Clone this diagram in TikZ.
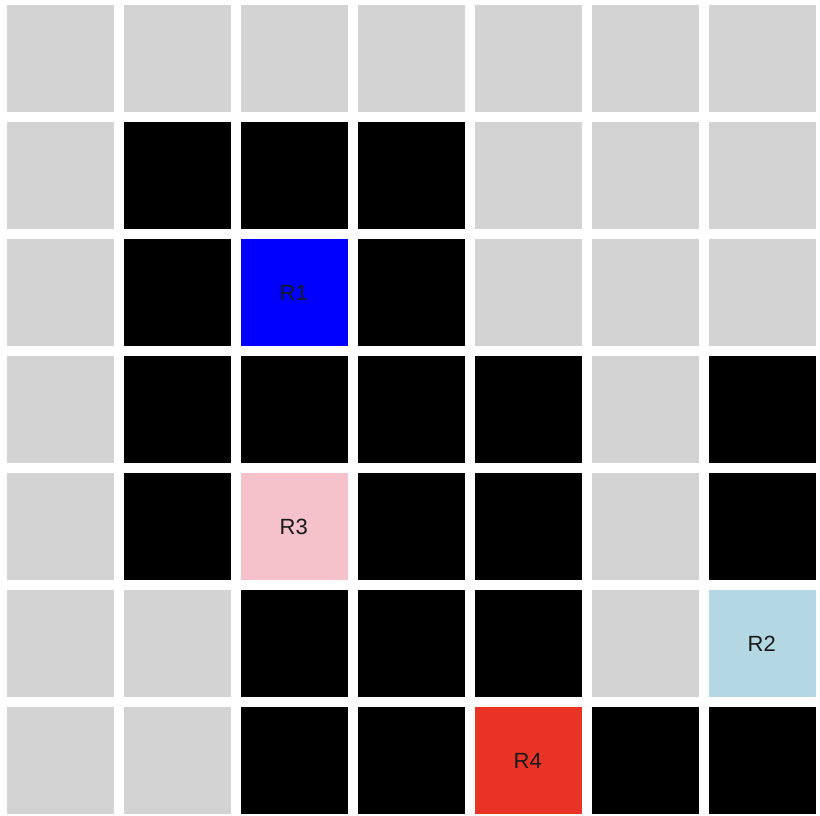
\documentclass[tikz,border=0pt]{standalone}
\usepackage{fontspec}
\setmainfont{Liberation Sans}
\definecolor{G}{HTML}{D3D3D3}
\definecolor{K}{HTML}{000000}
\definecolor{B}{HTML}{0000FF}
\definecolor{P}{HTML}{F5C1CB}
\definecolor{L}{HTML}{B3D8E4}
\definecolor{R}{HTML}{E93324}
\definecolor{txt}{HTML}{1A1A1A}
\tikzset{
  cell/.style={draw=none, minimum width=107pt, minimum height=107pt, inner sep=0pt, anchor=north west},
  lbl/.style={text=txt, font=\fontsize{22pt}{26pt}\selectfont, inner sep=0pt},
}
\begin{document}
\begin{tikzpicture}[x=1pt,y=-1pt]
\useasboundingbox (0,0) rectangle (820,816);
\fill[white] (0,0) rectangle (820,816);
\foreach \r/\row in {0/{G,G,G,G,G,G,G},1/{G,K,K,K,G,G,G},2/{G,K,B,K,G,G,G},3/{G,K,K,K,K,G,K},4/{G,K,P,K,K,G,K},5/{G,G,K,K,K,G,L},6/{G,G,K,K,R,K,K}}{
  \foreach \t [count=\c from 0] in \row {
    \node[cell, fill=\t] (c\r\c) at ({7+117*\c},{5+117*\r}) {};
  }
}
\node[lbl] (l1) at ([xshift=-1pt]c22.center) {R1};
\node[lbl] (l3) at ([xshift=-1pt]c42.center) {R3};
\node[lbl] (l2) at ([xshift=-1pt]c56.center) {R2};
\node[lbl] (l4) at ([xshift=-1pt]c64.center) {R4};
\end{tikzpicture}
\end{document}
